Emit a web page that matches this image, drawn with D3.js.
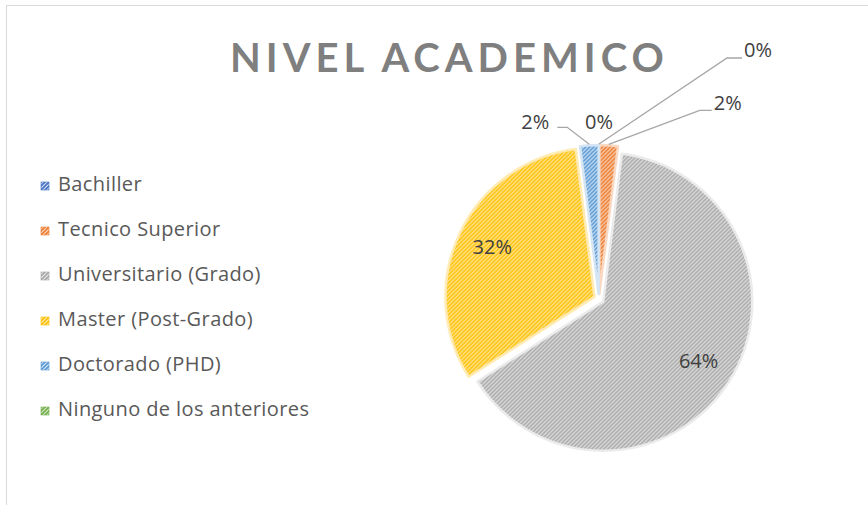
<!DOCTYPE html>
<html>
<head>
<meta charset="utf-8">
<script src="https://cdn.jsdelivr.net/npm/d3@7"></script>
<style>
  body { margin: 0; background: #fff; }
  svg { display: block; }
</style>
</head>
<body>
<svg width="868" height="505"></svg>
<script>
const categories = [
  "Bachiller",
  "Tecnico Superior",
  "Universitario (Grado)",
  "Master (Post-Grado)",
  "Doctorado (PHD)",
  "Ninguno de los anteriores"
];
const percents = [0, 2, 64, 32, 2, 0];
const sliceColors = ["#4472C4", "#ED7D31", "#A5A5A5", "#FFC000", "#5B9BD5", "#70AD47"];
const tintColors = ["#D3DDF0", "#FAD8C1", "#EBEBEB", "#FFEBB3", "#D5E5F4", "#D8E9CD"];
const chartTitle = "NIVEL ACADEMICO";

// where the small slices put their label (offsets from the rim, not data)
const callouts = {
  0: { elbow: [128, -86], run: 15, dy: -6 },
  1: { elbow: [91, -34], run: 12, dy: -6 },
  4: { elbow: [-22, -17], run: -10, dy: -4 },
  5: { elbow: null, run: 0, dy: -20 }
};

const cx = 599, cy = 299, radius = 149, explode = 5;

const svg = d3.select("svg");
const defs = svg.append("defs");

sliceColors.forEach((color, i) => {
  const p = defs.append("pattern")
    .attr("id", "hatch" + i)
    .attr("patternUnits", "userSpaceOnUse")
    .attr("width", 4)
    .attr("height", 4);
  p.append("rect").attr("width", 4).attr("height", 4).attr("fill", tintColors[i]);
  p.append("path")
    .attr("d", "M-1,1 L1,-1 M0,4 L4,0 M3,5 L5,3")
    .attr("stroke", color)
    .attr("stroke-width", 1.6);
});

// chart border
svg.append("rect")
  .attr("x", 6.5)
  .attr("y", 5.5)
  .attr("width", 1000)
  .attr("height", 1000)
  .attr("fill", "none")
  .attr("stroke", "#D9D9D9");

svg.append("text")
  .attr("x", 230)
  .attr("y", 72)
  .style("font-family", "Lato")
  .style("font-weight", "bold")
  .style("font-size", "40px")
  .style("letter-spacing", "5px")
  .attr("fill", "#7F7F7F")
  .text(chartTitle);

const pie = d3.pie().sort(null).value(d => d);
const arcs = pie(percents);

const arc = d3.arc().innerRadius(0).outerRadius(radius);
const labelArc = d3.arc().innerRadius(118).outerRadius(118);

const midAngle = d => (d.startAngle + d.endAngle) / 2;
const shift = d => [Math.sin(midAngle(d)) * explode, -Math.cos(midAngle(d)) * explode];

const pieGroup = svg.append("g").attr("transform", `translate(${cx},${cy})`);

pieGroup.selectAll("path.slice")
  .data(arcs)
  .enter()
  .append("path")
  .attr("class", "slice")
  .attr("transform", d => `translate(${shift(d)})`)
  .attr("d", arc)
  .attr("fill", (d, i) => `url(#hatch${i})`)
  .attr("stroke", (d, i) => d.value > 0 ? tintColors[i] : "none")
  .attr("stroke-width", 2.5)
  .attr("stroke-linejoin", "round");

const labelFont = sel => sel
  .style("font-family", "Open Sans")
  .style("font-size", "20px")
  .attr("fill", "#404040")
  .attr("dominant-baseline", "middle");

// labels inside the big slices
pieGroup.selectAll("text.inner")
  .data(arcs.filter((d, i) => !callouts[i]))
  .enter()
  .append("text")
  .attr("class", "inner")
  .attr("x", d => labelArc.centroid(d)[0])
  .attr("y", d => labelArc.centroid(d)[1])
  .attr("text-anchor", "middle")
  .call(labelFont)
  .text(d => d.value + "%");

// callouts for the small slices
const rimPoint = d => {
  const a = midAngle(d), r = radius + explode + 1;
  return [Math.sin(a) * r, -Math.cos(a) * r];
};

arcs.forEach((d, i) => {
  const c = callouts[i];
  if (!c) return;
  const start = rimPoint(d);
  if (c.elbow) {
    const elbow = [start[0] + c.elbow[0], start[1] + c.elbow[1]];
    const end = [elbow[0] + c.run, elbow[1]];
    pieGroup.append("polyline")
      .attr("points", [start, elbow, end].map(p => p.join(",")).join(" "))
      .attr("fill", "none")
      .attr("stroke", "#A6A6A6")
      .attr("stroke-width", 1.3);
    pieGroup.append("text")
      .attr("x", end[0] + (c.run > 0 ? 2 : -8))
      .attr("y", end[1] + c.dy)
      .attr("text-anchor", c.run > 0 ? "start" : "end")
      .call(labelFont)
      .text(d.value + "%");
  } else {
    pieGroup.append("text")
      .attr("x", start[0])
      .attr("y", start[1] + c.dy)
      .attr("text-anchor", "middle")
      .call(labelFont)
      .text(d.value + "%");
  }
});

// legend
const legend = svg.selectAll("g.legend")
  .data(categories)
  .enter()
  .append("g")
  .attr("class", "legend")
  .attr("transform", (d, i) => `translate(41,${186 + i * 45})`);

legend.append("rect")
  .attr("x", 0)
  .attr("y", -4)
  .attr("width", 8)
  .attr("height", 8)
  .attr("fill", (d, i) => `url(#hatch${i})`)
  .attr("stroke", (d, i) => sliceColors[i])
  .attr("stroke-width", 0.6);

legend.append("text")
  .attr("x", 17)
  .attr("y", 0)
  .attr("dominant-baseline", "middle")
  .style("font-family", "Open Sans")
  .style("font-size", "20px")
  .style("letter-spacing", "0.4px")
  .attr("fill", "#595959")
  .text(d => d);
</script>
</body>
</html>
